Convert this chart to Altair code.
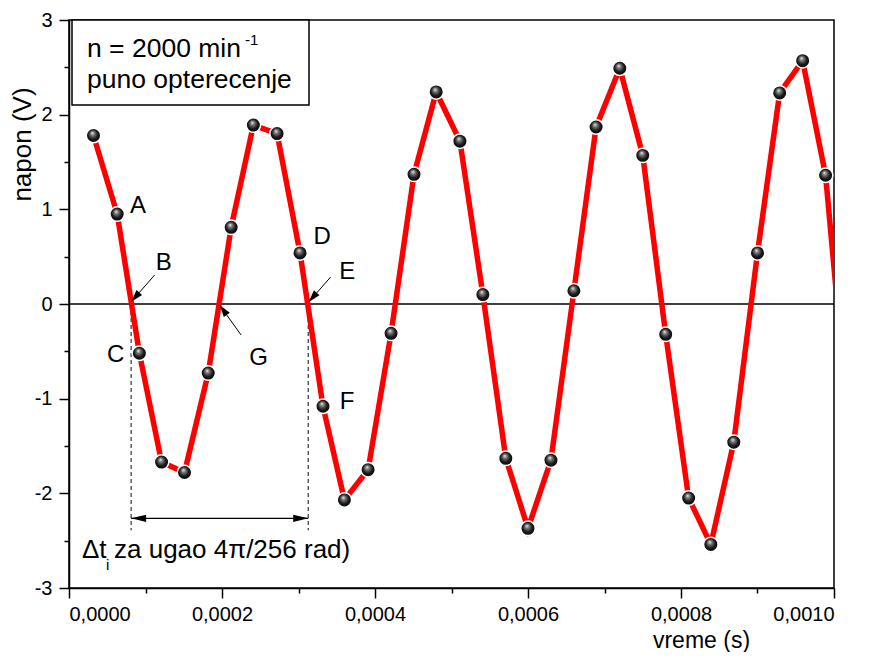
import altair as alt
import pandas as pd

FONT = "Liberation Sans"

# ---- data ----
time_s = [0.000032, 0.000063, 0.000092, 0.000121, 0.000151, 0.000182, 0.000212, 0.000241,
          0.000272, 0.000302, 0.000332, 0.000360, 0.000391, 0.000421, 0.000451, 0.000480,
          0.000511, 0.000541, 0.000571, 0.000600, 0.000630, 0.000660, 0.000689, 0.000720,
          0.000750, 0.000780, 0.000810, 0.000839, 0.000869, 0.000900, 0.000929, 0.000959,
          0.000989, 0.001019]
voltage_v = [1.78, 0.95, -0.52, -1.67, -1.78, -0.73, 0.81, 1.89, 1.80, 0.54, -1.08, -2.07,
             -1.75, -0.31, 1.37, 2.24, 1.72, 0.10, -1.63, -2.37, -1.65, 0.14, 1.87, 2.49,
             1.57, -0.32, -2.05, -2.54, -1.46, 0.54, 2.23, 2.57, 1.36, -1.30]

x_tick_values = [0.0, 0.0001, 0.0002, 0.0003, 0.0004, 0.0005, 0.0006, 0.0007, 0.0008, 0.0009, 0.001]
y_tick_values = [-3, -2.5, -2, -1.5, -1, -0.5, 0, 0.5, 1, 1.5, 2, 2.5, 3]

letters = ["A", "B", "C", "D", "E", "F", "G"]
letter_t = [0.0000901, 0.0001238, 0.0000610, 0.0003309, 0.0003636, 0.0003636, 0.0002478]
letter_v = [1.03, 0.43, -0.54, 0.71, 0.34, -1.03, -0.57]

arrow_start_t = [0.0001119, 0.0003420, 0.0002249]
arrow_start_v = [0.306, 0.285, -0.327]
arrow_tip_t = [0.0000814, 0.0003133, 0.0001969]
arrow_tip_v = [0.024, 0.021, -0.011]
arrow_angle = [221, 221, 324]

crossing_t = [0.0000812, 0.0003127]
dashed_bottom_v = -2.39
span_v = -2.264
span_angle = [270, 90]

legend_line1 = "n = 2000 min"
legend_sup = "-1"
legend_line2 = "puno opterecenje"
delta_main = "\u0394t"
delta_sub = "i"
delta_rest = "za ugao 4\u03c0/256 rad)"

# ---- tables ----
series = pd.DataFrame({"t": time_s, "v": voltage_v})
labels_df = pd.DataFrame({"t": letter_t, "v": letter_v, "lab": letters})
arrows_df = pd.DataFrame({"t": arrow_start_t, "v": arrow_start_v,
                          "t2": arrow_tip_t, "v2": arrow_tip_v, "ang": arrow_angle})
cross_df = pd.DataFrame({"t": crossing_t, "v": [0.0, 0.0], "v2": [dashed_bottom_v] * 2})
span_df = pd.DataFrame({"t": [crossing_t[0]], "t2": [crossing_t[1]], "v": [span_v]})
span_heads = pd.DataFrame({"t": crossing_t, "v": [span_v] * 2, "ang": span_angle})

x_scale = alt.Scale(domain=[0, 0.001], nice=False, zero=False)
y_scale = alt.Scale(domain=[-3, 3], nice=False, zero=False)

x_axis = alt.Axis(
    values=x_tick_values,
    labelExpr="round(datum.value*10000) % 2 == 0 ? replace(format(datum.value, '.4f'), '.', ',') : ''",
    tickSize={"condition": {"test": "round(datum.value*10000) % 2 == 0", "value": 10}, "value": 5},
    title="vreme (s)", titleX=632, titleY=59, titleAlign="center", titleBaseline="alphabetic",
    titleFontSize=23, labelFontSize=20, labelPadding=6, grid=False,
)
y_axis = alt.Axis(
    values=y_tick_values,
    labelExpr="datum.value % 1 == 0 ? '' + datum.value : ''",
    tickSize={"condition": {"test": "datum.value % 1 == 0", "value": 10}, "value": 5},
    title="napon (V)", titleX=-47, titleY=124, titleAlign="center", titleBaseline="middle",
    titleAngle=270, titleFontSize=26, labelFontSize=20, labelPadding=7, grid=False,
)

X = lambda f: alt.X(f, type="quantitative", scale=x_scale, axis=x_axis)
Y = lambda f: alt.Y(f, type="quantitative", scale=y_scale, axis=y_axis)

zero_line = alt.Chart(pd.DataFrame({"v": [0.0]})).mark_rule(color="black", strokeWidth=1.5).encode(
    y=Y("v"))

dashed = alt.Chart(cross_df).mark_rule(color="#222222", strokeWidth=1.1, strokeDash=[4, 3]).encode(
    x=X("t"), y=Y("v"), y2="v2")

span_line = alt.Chart(span_df).mark_rule(color="black", strokeWidth=1.2).encode(
    x=X("t"), x2="t2", y=Y("v"))

span_head = alt.Chart(span_heads).mark_point(
    shape="M0,0L0.24,1L-0.24,1Z", filled=True, fill="black", stroke=None, size=900, opacity=1
).encode(x=X("t"), y=Y("v"), angle=alt.Angle("ang:Q", scale=None))

line = alt.Chart(series).mark_line(color="#ff0000", strokeWidth=5.5, clip=True).encode(
    x=X("t"), y=Y("v"))

ball_fill = {
    "gradient": "radial", "x1": 0.42, "y1": 0.32, "r1": 0.0, "x2": 0.5, "y2": 0.5, "r2": 0.55,
    "stops": [{"offset": 0.0, "color": "#f4f4f4"}, {"offset": 0.25, "color": "#7a7a7a"},
              {"offset": 0.6, "color": "#1a1a1a"}, {"offset": 1.0, "color": "#000000"}],
}
points = alt.Chart(series).mark_circle(
    fill=ball_fill, stroke="white", strokeWidth=1.5, size=210, opacity=1, clip=True
).encode(x=X("t"), y=Y("v"))

arrow_lines = alt.Chart(arrows_df).mark_rule(color="black", strokeWidth=1).encode(
    x=X("t"), y=Y("v"), x2="t2", y2="v2")
arrow_heads = alt.Chart(arrows_df).mark_point(
    shape="M0,0L0.3,1L-0.3,1Z", filled=True, fill="black", stroke=None, size=600, opacity=1
).encode(x=X("t2"), y=Y("v2"), angle=alt.Angle("ang:Q", scale=None))

letter_text = alt.Chart(labels_df).mark_text(
    font=FONT, fontSize=24, align="center", baseline="middle", color="black"
).encode(x=X("t"), y=Y("v"), text="lab:N")


def txt(s, px, py, size, align="left", baseline="alphabetic"):
    return alt.Chart(pd.DataFrame({"s": [s]})).mark_text(
        font=FONT, fontSize=size, align=align, baseline=baseline, color="black"
    ).encode(x=alt.value(px), y=alt.value(py), text="s:N")


legend_box = alt.Chart(pd.DataFrame({"k": [0]})).mark_rect(
    fill="white", stroke="black", strokeWidth=1.5
).encode(x=alt.value(3), x2=alt.value(240), y=alt.value(0), y2=alt.value(85))

chart = alt.layer(
    zero_line, dashed, span_line, span_head, line, points, arrow_lines, arrow_heads, letter_text,
    legend_box,
    txt(legend_line1, 18, 37, 26.5),
    txt(legend_sup, 176, 25, 15),
    txt(legend_line2, 18, 68, 26.5),
    txt(delta_main, 13, 538, 26),
    txt(delta_sub, 37, 550, 15),
    txt(delta_rest, 45, 538, 26),
).properties(
    width=765, height=568,
    autosize=alt.AutoSizeParams(type="none"),
    padding={"left": 61, "top": 12, "right": 30, "bottom": 64},
    background="white",
).configure_view(
    stroke="black", strokeWidth=1.5
).configure_axis(
    labelFont=FONT, titleFont=FONT, labelColor="black", titleColor="black",
    domainColor="black", tickColor="black", domainWidth=1.5, tickWidth=1.5,
    titleFontWeight="normal",
)

chart.save("out.html", embed_options={"renderer": "svg", "actions": False})
